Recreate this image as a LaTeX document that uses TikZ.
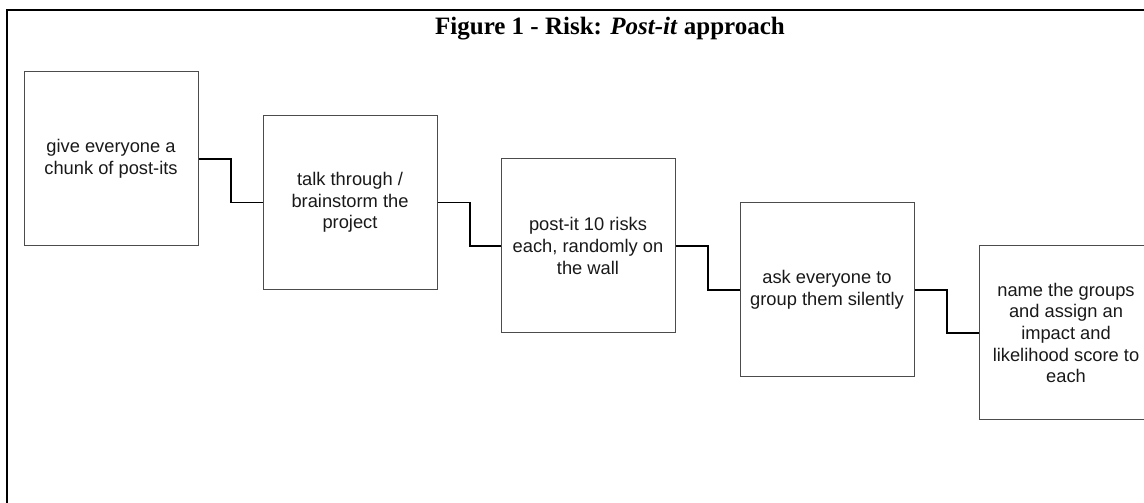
\documentclass[tikz,border=0pt]{standalone}
\usepackage{fontspec}
\setmainfont{Liberation Serif}
\newfontfamily\boxfont{Liberation Sans}
\usepackage{tikz}
\usetikzlibrary{arrows,shapes}
\tikzstyle{stepbox}=[rectangle,draw=black!70,line width=1pt,minimum width=174pt,minimum height=174pt,inner sep=0pt,align=center,font=\boxfont\fontsize{18.3}{21.7}\selectfont,text=black!90]
\tikzstyle{link} = [draw,line width=1.6pt,-]

\begin{document}
\begin{tikzpicture}[x=1pt,y=1pt]
    \useasboundingbox (0,0) rectangle (1144,503);
    \clip (0,0) rectangle (1144,503);
    % Frame and title
    \draw[line width=2pt] (7,-5) -- (7,493) -- (1150,493);
    \node[font=\bfseries\fontsize{25}{29}\selectfont] (title) at (610,474) {Figure 1 - Risk: \textit{Post-it} approach};
    % First we draw the steps
    \foreach \pos/\name/\txt in {{(111,344)/give/{give everyone a\\chunk of post-its}},
                                {(350,300.5)/talk/{talk through /\\brainstorm the\\project}},
                                {(588,257)/wall/{post-it 10 risks\\each, randomly on\\the wall}},
                                {(827,213)/group/{ask everyone to\\group them silently}},
                                {(1066,170)/score/{name the groups\\and assign an\\impact and\\likelihood score to\\each}}}
        \node[stepbox] (\name) at \pos {\txt};
    % Connect steps with elbow lines
    \foreach \source/ \dest in {give/talk, talk/wall, wall/group, group/score}
        \path[link] (\source.east) -- ++(32.5,0) |- (\dest.west);

\end{tikzpicture}
\end{document}
